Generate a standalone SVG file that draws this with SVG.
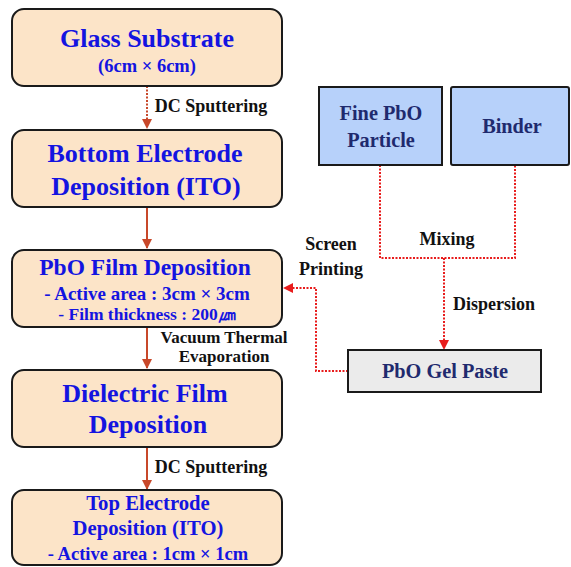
<svg xmlns="http://www.w3.org/2000/svg" width="571" height="567" viewBox="0 0 571 567">
<defs>
<style>
.step{fill:#fce4c8;stroke:#1a1a1a;stroke-width:2}
.mat{fill:#b7d1fa;stroke:#1a1a1a;stroke-width:2}
.gel{fill:#ebebeb;stroke:#1a1a1a;stroke-width:2}
text{font-family:"Liberation Serif","Times New Roman",serif;font-weight:bold;text-anchor:middle}
.big{fill:#1414e0;font-size:26px}
.mid{fill:#1414e0;font-size:20.7px}
.sub{fill:#1414e0;font-size:18.5px}
.lbl{fill:#111;font-size:18px}
.nv{fill:#1f2a6e;font-size:20.3px}
.flow{stroke:#c8482a;stroke-width:2;fill:none}
.red{stroke:#e81c1c;stroke-width:2;fill:none;stroke-dasharray:2 1.5}
</style>
<marker id="ah" viewBox="0 0 10 10" refX="9" refY="5" markerWidth="5" markerHeight="5" orient="auto">
<path d="M0,0L10,5L0,10z" fill="#c8482a"/>
</marker>
<marker id="ahr" viewBox="0 0 10 10" refX="9" refY="5" markerWidth="5" markerHeight="5" orient="auto">
<path d="M0,0L10,5L0,10z" fill="#e81c1c"/>
</marker>
</defs>
<g id="connectors">
<line class="flow" x1="147" y1="86" x2="147" y2="128" stroke-dasharray="2 1.5" marker-end="url(#ah)"/>
<line class="flow" x1="147" y1="207" x2="147" y2="248" marker-end="url(#ah)"/>
<line class="flow" x1="147" y1="327" x2="147" y2="368" marker-end="url(#ah)"/>
<line class="flow" x1="147" y1="447" x2="147" y2="489" marker-end="url(#ah)"/>
<polyline class="red" points="380,165 380,258 515,258 515,165"/>
<line class="red" x1="444" y1="258" x2="444" y2="349" marker-end="url(#ahr)"/>
<polyline class="red" points="348,371 316,371 316,288 284,288" marker-end="url(#ahr)"/>
<text class="lbl" x="211" y="112">DC Sputtering</text>
<text class="lbl" x="224" y="343" style="font-size:17px">Vacuum Thermal</text>
<text class="lbl" x="224" y="362" style="font-size:17px">Evaporation</text>
<text class="lbl" x="211" y="473">DC Sputtering</text>
<text class="lbl" x="447" y="245">Mixing</text>
<text class="lbl" x="331" y="250">Screen</text>
<text class="lbl" x="331" y="275">Printing</text>
<text class="lbl" x="494" y="310">Dispersion</text>
</g>
<g id="glass">
<rect class="step" x="12" y="9" width="270" height="77" rx="12"/>
<text class="big" x="147" y="47">Glass Substrate</text>
<text class="sub" x="147" y="72">(6cm × 6cm)</text>
</g>
<g id="bottom">
<rect class="step" x="12" y="130" width="270" height="77" rx="12"/>
<text class="big" x="145" y="162">Bottom Electrode</text>
<text class="big" x="146" y="195">Deposition (ITO)</text>
</g>
<g id="pbofilm">
<rect class="step" x="12" y="250" width="270" height="77" rx="12"/>
<text class="mid" x="145" y="275" style="font-size:23.5px">PbO Film Deposition</text>
<text class="sub" x="147" y="300" style="font-size:19px">- Active area : 3cm × 3cm</text>
<text class="sub" x="147" y="320" style="font-size:17.5px">- Film thickness : 200㎛</text>
</g>
<g id="dielectric">
<rect class="step" x="12" y="370" width="270" height="77" rx="12"/>
<text class="big" x="145" y="402">Dielectric Film</text>
<text class="big" x="148" y="433">Deposition</text>
</g>
<g id="top">
<rect class="step" x="12" y="490" width="270" height="75" rx="12"/>
<text class="mid" x="148" y="510">Top Electrode</text>
<text class="mid" x="148" y="535">Deposition (ITO)</text>
<text class="sub" x="148" y="560">- Active area : 1cm × 1cm</text>
</g>
<g id="finepbo">
<rect class="mat" x="319" y="87" width="123" height="78"/>
<text class="nv" x="381" y="120">Fine PbO</text>
<text class="nv" x="381" y="147">Particle</text>
</g>
<g id="binder">
<rect class="mat" x="451" y="87" width="118" height="78" rx="2"/>
<text class="nv" x="512" y="133">Binder</text>
</g>
<g id="gelpaste">
<rect class="gel" x="348" y="350" width="193" height="42"/>
<text class="nv" x="445" y="378">PbO Gel Paste</text>
</g>
</svg>
